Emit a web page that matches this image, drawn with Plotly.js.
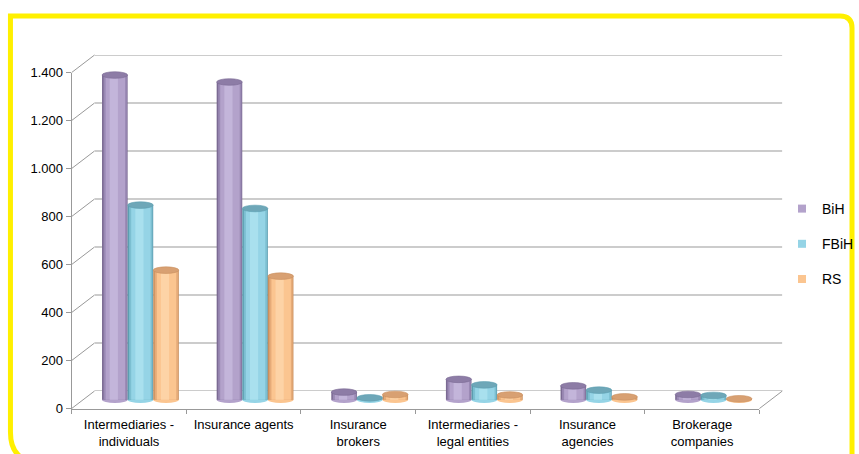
<!DOCTYPE html>
<html>
<head>
<meta charset="utf-8">
<script src="https://cdn.plot.ly/plotly-3.0.1.min.js"></script>
<style>html,body{margin:0;padding:0;background:#fff;}#chart{width:859px;height:454px;}</style>
</head>
<body>
<div id="chart"></div>
<script>
// ---- data ----
const categories = ['Intermediaries - individuals', 'Insurance agents', 'Insurance brokers',
  'Intermediaries - legal entities', 'Insurance agencies', 'Brokerage companies'];
const tickLabels = ['Intermediaries -<br>individuals', 'Insurance agents', 'Insurance<br>brokers',
  'Intermediaries -<br>legal entities', 'Insurance<br>agencies', 'Brokerage<br>companies'];
const seriesNames = ['BiH', 'FBiH', 'RS'];
const bihValues  = [1353, 1324, 32, 85, 58, 22];
const fbihValues = [811, 797, 8, 62, 40, 18];
const rsValues   = [540, 515, 22, 20, 12, 4];
const yTicks = [0, 200, 400, 600, 800, 1000, 1200, 1400];

// ---- style / geometry ----
const W = 859, H = 454;
const FONT = 'Liberation Sans, Arial, sans-serif';
const gridColor = '#999999';
const front = {xl: 72, xr: 763, y0: 408.5, yTop: 72.5};
const depth = {dx: 23, dy: -17.5};
const back = {xl: front.xl + depth.dx, xr: front.xr + depth.dx, y0: front.y0 + depth.dy, yTop: front.yTop + depth.dy};
const mid = {xl: front.xl + depth.dx / 2, xr: front.xr + depth.dx / 2, y0: front.y0 + depth.dy / 2, yTop: front.yTop + depth.dy / 2};
const yMax = 1400, yMinBars = -60;
const pxPerUnit = (mid.y0 - mid.yTop) / yMax;
const px = v => v / W, py = v => 1 - v / H;

const palettes = [
  {edge: '#7b6a93', mid: '#9a89b4', base: '#b3a2cb', light: '#c3b5da', cap: '#8d7ca6'},
  {edge: '#5b9db0', mid: '#7cbfd1', base: '#95d4e6', light: '#a9e0ee', cap: '#6ea7b8'},
  {edge: '#c98f5e', mid: '#e6ab78', base: '#fbc590', light: '#fdd3a6', cap: '#d8a072'}
];
const seriesValues = [bihValues, fbihValues, rsValues];

const barW = 0.2233;
const groupStart = -1.5 * barW;
const layers = [
  {f0: 0.00, f1: 1.00, key: 'edge'},
  {f0: 0.06, f1: 0.97, key: 'mid'},
  {f0: 0.14, f1: 0.90, key: 'base'},
  {f0: 0.30, f1: 0.62, key: 'light'}
];

const traces = [];
// placeholder traces so the back-wall and front-axis subplots exist
traces.push({type: 'scatter', x: [], y: [], xaxis: 'x', yaxis: 'y', showlegend: false, hoverinfo: 'skip'});
traces.push({type: 'scatter', x: [], y: [], xaxis: 'x2', yaxis: 'y2', showlegend: false, hoverinfo: 'skip'});

const shapes = [];
const capHalf = 3.3 / pxPerUnit;

seriesValues.forEach((vals, s) => {
  const pal = palettes[s];
  const off = groupStart + s * barW;
  layers.forEach(L => {
    traces.push({
      type: 'bar', x: categories, y: vals, xaxis: 'x3', yaxis: 'y3',
      offset: off + L.f0 * barW, width: (L.f1 - L.f0) * barW,
      marker: {color: pal[L.key], line: {width: 0}},
      showlegend: false, hoverinfo: 'skip', legendgroup: seriesNames[s]
    });
  });
  vals.forEach((v, i) => {
    // bottom ellipse (base of cylinder)
    shapes.push({type: 'circle', xref: 'x3', yref: 'y3', layer: 'below',
      x0: i + off, x1: i + off + barW, y0: -capHalf, y1: capHalf,
      fillcolor: pal.base, line: {width: 0}});
    // top cap
    shapes.push({type: 'circle', xref: 'x3', yref: 'y3', layer: 'above',
      x0: i + off, x1: i + off + barW, y0: v - capHalf, y1: v + capHalf,
      fillcolor: pal.cap, line: {width: 0.6, color: pal.edge}});
  });
});

// legend proxies
seriesNames.forEach((n, s) => {
  traces.push({type: 'scatter', mode: 'markers', x: [null], y: [null], xaxis: 'x3', yaxis: 'y3',
    name: n, legendgroup: n, marker: {symbol: 'square', size: 8, color: palettes[s].base}, hoverinfo: 'skip'});
});

// back-wall gridlines, drawn on the back-wall axes at each tick value
yTicks.forEach(t => {
  shapes.push({type: 'line', xref: 'x', yref: 'y', layer: 'below',
    x0: 0, x1: 1, y0: t, y1: t, line: {color: gridColor, width: 1}});
});

// left side-wall lines from front ticks to back wall
const yFront = v => front.y0 - (front.y0 - front.yTop) * v / yMax;
const yBack = v => back.y0 - (back.y0 - back.yTop) * v / yMax;
yTicks.forEach(t => {
  shapes.push({type: 'line', xref: 'paper', yref: 'paper', layer: 'below',
    x0: px(front.xl), y0: py(yFront(t)), x1: px(back.xl), y1: py(yBack(t)),
    line: {color: gridColor, width: 1}});
});
// floor right edge
shapes.push({type: 'line', xref: 'paper', yref: 'paper', layer: 'below',
  x0: px(front.xr), y0: py(front.y0), x1: px(back.xr), y1: py(back.y0),
  line: {color: gridColor, width: 1}});

// yellow frame
const fl = 10.5, ft = 16, fr = 856, fb = 462, rTR = 12, rBL = 30;
const framePath = `M ${px(fl)},${py(ft)} L ${px(fr - rTR)},${py(ft)} Q ${px(fr)},${py(ft)} ${px(fr)},${py(ft + rTR)} ` +
  `L ${px(fr)},${py(fb)} L ${px(fl + rBL)},${py(fb)} Q ${px(fl)},${py(fb)} ${px(fl)},${py(fb - rBL)} Z`;
shapes.push({type: 'path', xref: 'paper', yref: 'paper', layer: 'below', path: framePath,
  line: {color: '#FFF000', width: 5}, fillcolor: 'rgba(0,0,0,0)'});

const layout = {
  width: W, height: H,
  margin: {l: 0, r: 0, t: 0, b: 0},
  paper_bgcolor: '#ffffff', plot_bgcolor: 'rgba(0,0,0,0)',
  separators: ',.',
  font: {family: FONT, size: 13, color: '#000000'},
  barmode: 'overlay',
  showlegend: true,
  legend: {x: px(786), xanchor: 'left', y: py(193), yanchor: 'top', font: {size: 14, color: '#000'},
    traceorder: 'grouped', tracegroupgap: 14, bgcolor: 'rgba(0,0,0,0)', borderwidth: 0},
  // back wall
  xaxis: {domain: [px(back.xl), px(back.xr)], range: [0, 1], visible: false, anchor: 'y', fixedrange: true},
  yaxis: {domain: [py(back.y0), py(back.yTop)], range: [0, yMax], anchor: 'x', visible: false, fixedrange: true},
  // front axes
  xaxis2: {domain: [px(front.xl), px(front.xr)], range: [-0.5, 5.5], anchor: 'y2',
    tickmode: 'array', tickvals: categories.map((c, i) => i), ticktext: tickLabels, ticks: '',
    ticklabelstandoff: 4,
    showline: true, linecolor: gridColor, linewidth: 1, showgrid: false, zeroline: false,
    tickfont: {size: 13, color: '#000'},
    minor: {tickmode: 'array', tickvals: categories.map((c, i) => i - 0.5).concat([categories.length - 0.5]),
      ticks: 'outside', ticklen: 4, tickcolor: gridColor, showgrid: false},
    fixedrange: true},
  yaxis2: {domain: [py(front.y0), py(front.yTop)], range: [0, yMax], anchor: 'x2',
    tickmode: 'array', tickvals: yTicks, tickformat: ',', ticks: 'outside', ticklen: 5, tickcolor: gridColor,
    showline: true, linecolor: gridColor, linewidth: 1, showgrid: false, zeroline: false,
    tickfont: {size: 13, color: '#000'}, fixedrange: true},
  // bars (mid-depth)
  xaxis3: {domain: [px(mid.xl), px(mid.xr)], type: 'category', categoryarray: categories, range: [-0.5, 5.5],
    anchor: 'y3', visible: false, fixedrange: true},
  yaxis3: {domain: [py(mid.y0 - yMinBars * pxPerUnit), py(mid.yTop)], range: [yMinBars, yMax],
    anchor: 'x3', visible: false, fixedrange: true},
  shapes: shapes
};

Plotly.newPlot('chart', traces, layout, {staticPlot: true, displayModeBar: false});
</script>
</body>
</html>
